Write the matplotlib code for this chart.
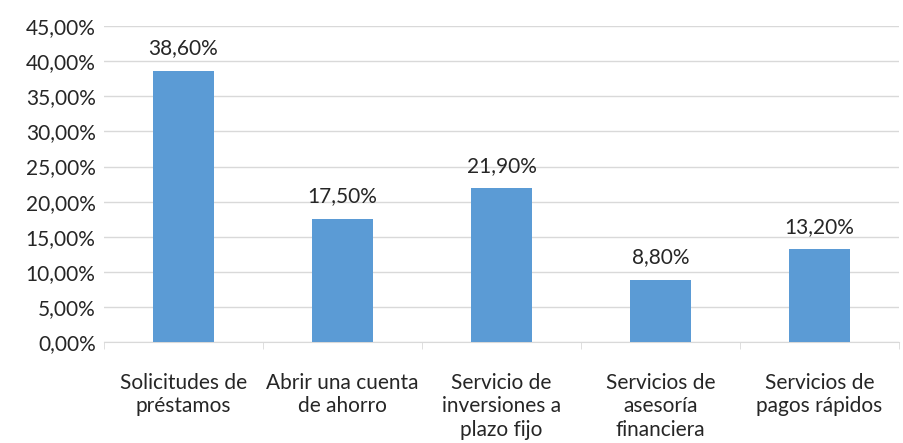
import matplotlib.pyplot as plt
import numpy as np

categorias = ['Solicitudes de\npréstamos', 'Abrir una cuenta\nde ahorro',
              'Servicio de\ninversiones a\nplazo fijo', 'Servicios de\nasesoría\nfinanciera',
              'Servicios de\npagos rápidos']
valores = [38.6, 17.5, 21.9, 8.8, 13.2]
yticks = np.arange(0, 46, 5)

plt.rcParams['font.family'] = ['Lato', 'DejaVu Sans']

fig = plt.figure(figsize=(9.04, 4.43), dpi=100)
ax = fig.add_axes([0.115, 0.228, 0.8795, 0.713])

x = np.arange(len(valores))
ax.bar(x, valores, width=0.38, color='#5B9BD5', zorder=3)

for xi, v in zip(x, valores):
    ax.text(xi, v + 1.8, f'{v:.2f}%'.replace('.', ','), ha='center', va='bottom',
            fontsize=15, color='#262626')

ax.set_xlim(-0.5, len(valores) - 0.5)
ax.set_ylim(0, 45)
ax.set_yticks(yticks)
ax.set_yticklabels([f'{t:.2f}%'.replace('.', ',') for t in yticks])
ax.yaxis.grid(True, color='#D9D9D9', linewidth=1, zorder=0)
ax.tick_params(axis='y', length=0, labelsize=15, labelcolor='#262626', pad=6)

ax.set_xticks(x)
ax.set_xticklabels(categorias, linespacing=1.22)
ax.tick_params(axis='x', length=0, labelsize=15, labelcolor='#262626', pad=22)
ax.set_xticks(np.arange(-0.5, len(valores), 1), minor=True)
ax.tick_params(axis='x', which='minor', length=5, color='#D9D9D9')

for s in ['top', 'right', 'left']:
    ax.spines[s].set_visible(False)
ax.spines['bottom'].set_color('#D9D9D9')

fig.savefig('out.png', dpi=100)
